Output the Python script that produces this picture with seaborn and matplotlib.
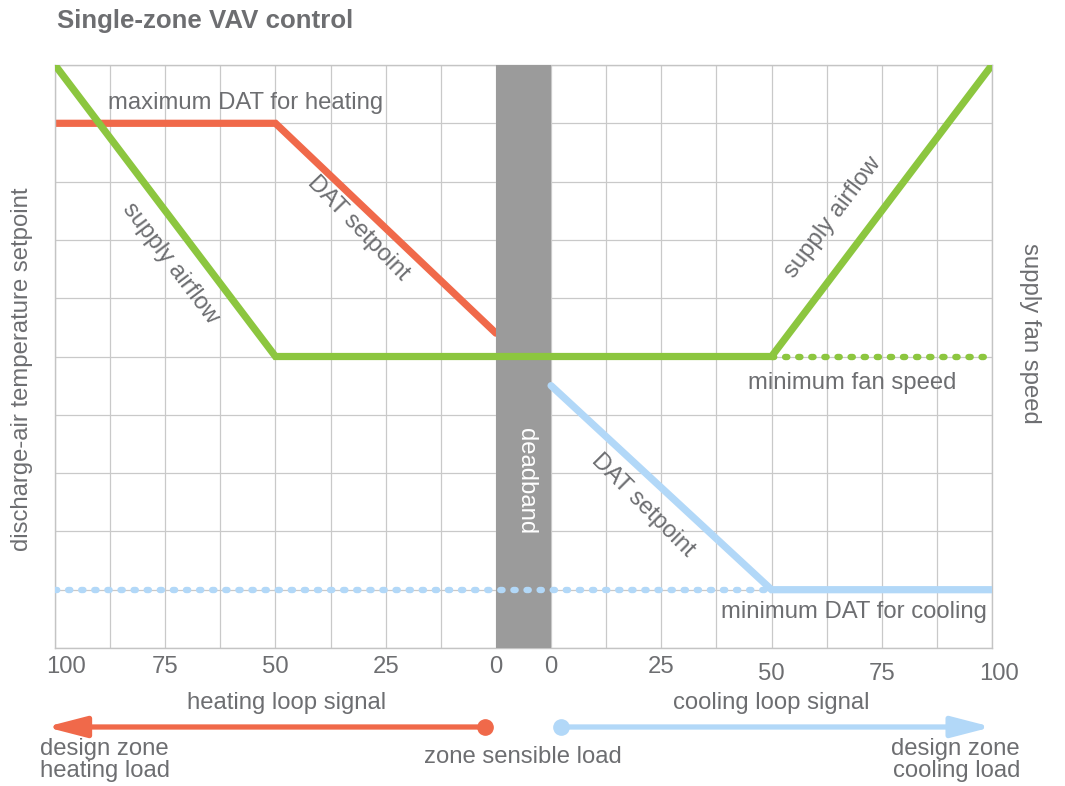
import matplotlib
matplotlib.use('Agg')
import matplotlib.pyplot as plt
from matplotlib.patches import FancyArrowPatch
import pandas as pd
import seaborn as sns

# loop signals (%) and setpoint / airflow levels (grid units 0-10)
heat_signal = [100, 50, 0]
heat_dat = [9.0, 9.0, 5.4]
airflow_heat_signal = [100, 50, 0]
airflow_heat = [10.0, 5.0, 5.0]
airflow_cool_signal = [0, 50, 100]
airflow_cool = [5.0, 5.0, 10.0]
cool_signal = [0, 50, 100]
cool_dat = [4.5, 1.0, 1.0]
min_fan_signal = [50, 100]
min_fan_level = [5.0, 5.0]
min_dat_heat_signal = [100, 0]
min_dat_cool_signal = [0, 50]
min_dat_level = [1.0, 1.0]
tick_values = [100, 75, 50, 25, 0]

RED = '#f0694a'
GREEN = '#8cc63f'
BLUE = '#b2d8f8'
GRAY = '#6d6e71'
BAND = '#9b9b9b'


def heat_x(s):
    # heating side runs 100 -> 0 from left edge to the deadband
    return [8 - v * 0.08 for v in s]


def cool_x(s):
    return [9 + v * 0.08 for v in s]


sns.set_theme(style="white")
plt.rcParams['font.family'] = ['Liberation Sans', 'DejaVu Sans']

fig = plt.figure(figsize=(10.65, 7.86), dpi=100)
ax = fig.add_axes([55 / 1065, 1 - 648 / 786, 937 / 1065, 583 / 786])
ax.set_xlim(0, 17)
ax.set_ylim(0, 10)
ax.set_xticks(range(0, 18))
ax.set_yticks(range(0, 11))
ax.grid(True, color='#c9c9c9', lw=0.9)
ax.tick_params(length=0, labelbottom=False, labelleft=False)
for sp in ax.spines.values():
    sp.set_color('#c4c4c4')
    sp.set_linewidth(1.0)

ax.axvspan(8, 9, color=BAND, zorder=3, lw=0)

lw = 5.2


def draw(x, y, color, z, dotted=False):
    df = pd.DataFrame({'x': x, 'y': y})
    kw = dict(lw=4.6, linestyle=(0, (0.35, 1.7)), dash_capstyle='round') if dotted \
        else dict(lw=lw, solid_capstyle='round', solid_joinstyle='miter')
    sns.lineplot(data=df, x='x', y='y', color=color, sort=False, estimator=None,
                 ax=ax, zorder=z, **kw)


draw(heat_x(heat_signal), heat_dat, RED, 2)
draw(heat_x(min_dat_heat_signal) + cool_x(min_dat_cool_signal),
     min_dat_level + min_dat_level, BLUE, 4, dotted=True)
draw(cool_x(min_fan_signal), min_fan_level, GREEN, 4, dotted=True)
draw(cool_x(cool_signal), cool_dat, BLUE, 4)
draw(heat_x(airflow_heat_signal) + cool_x(airflow_cool_signal),
     airflow_heat + airflow_cool, GREEN, 5)
ax.set_xlabel('')
ax.set_ylabel('')

fs = 17.2
tk = dict(color=GRAY, fontsize=fs)
ax.text(0.96, 9.35, 'maximum DAT for heating', ha='left', va='center', zorder=6, **tk)
ax.text(5.5, 7.2, 'DAT setpoint', rotation=-46, ha='center', va='center',
        rotation_mode='anchor', **tk)
ax.text(2.1, 6.59, 'supply airflow', rotation=-53, ha='center', va='center',
        rotation_mode='anchor', **tk)
ax.text(14.12, 7.38, 'supply airflow', rotation=53, ha='center', va='center',
        rotation_mode='anchor', **tk)
ax.text(14.46, 4.55, 'minimum fan speed', ha='center', va='center', **tk)
ax.text(8.54, 2.86, 'deadband', rotation=-90, ha='center', va='center',
        color='white', fontsize=fs, zorder=6)
ax.text(10.67, 2.45, 'DAT setpoint', rotation=-45, ha='center', va='center',
        rotation_mode='anchor', **tk)
ax.text(16.9, 0.62, 'minimum DAT for cooling', ha='right', va='center', zorder=6, **tk)

# loop signal tick labels
bt = ax.get_xaxis_transform()
for v, x in zip(tick_values, heat_x(tick_values)):
    ax.text(x + (0.2 if v == 100 else 0), -0.033, str(v), transform=bt,
            ha='center', va='center', **tk)
for v, x in zip(tick_values[::-1], cool_x(tick_values[::-1])):
    ax.text(x + (0.13 if v == 100 else 0), -0.033 if v < 50 else -0.045, str(v),
            transform=bt, ha='center', va='center', **tk)

ax.text(4.2, -0.094, 'heating loop signal', transform=bt, ha='center', va='center', **tk)
ax.text(12.99, -0.094, 'cooling loop signal', transform=bt, ha='center', va='center', **tk)

# load arrows
ay = -0.1355
for x0, x1, col in [(7.8, -0.17, RED), (9.18, 17.0, BLUE)]:
    arr = FancyArrowPatch((x0, ay), (x1, ay), transform=bt,
                          arrowstyle='-|>,head_length=24,head_width=6.2',
                          mutation_scale=1, color=col, lw=3.8, clip_on=False,
                          shrinkA=0, shrinkB=0)
    ax.add_patch(arr)
    ax.plot([x0], [ay], 'o', ms=11, color=col, transform=bt, clip_on=False)

ax.text(-0.27, -0.192, 'design zone\nheating load', transform=bt, ha='left',
        va='center', linespacing=1.05, **tk)
ax.text(8.49, -0.187, 'zone sensible load', transform=bt, ha='center', va='center', **tk)
ax.text(17.51, -0.192, 'design zone\ncooling load', transform=bt, ha='right',
        va='center', linespacing=1.05, **tk)

fig.text(57 / 1065, 1 - 21 / 786, 'Single-zone VAV control', fontsize=18.6,
         fontweight='bold', color=GRAY, ha='left', va='center')
fig.text(22 / 1065, 1 - 369 / 786, 'discharge-air temperature setpoint',
         rotation=90, ha='center', va='center', **tk)
fig.text(1030 / 1065, 1 - 333 / 786, 'supply fan speed', rotation=-90,
         ha='center', va='center', **tk)

fig.savefig('out.png', dpi=100)
